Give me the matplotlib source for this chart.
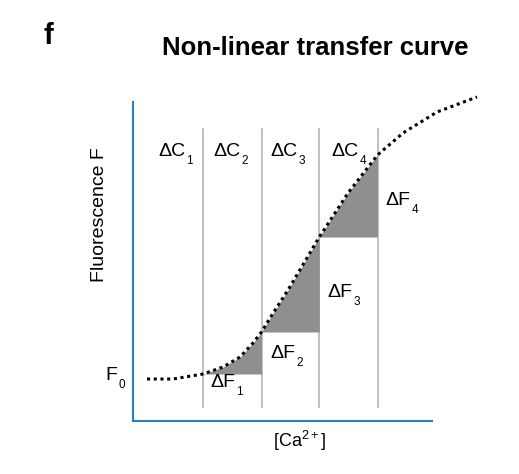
# Non-linear transfer curve (schematic)

import matplotlib
matplotlib.use("Agg")
import matplotlib.pyplot as plt

plt.rcParams["font.family"] = ["Liberation Sans", "DejaVu Sans"]
plt.rcParams["mathtext.fontset"] = "custom"
plt.rcParams["mathtext.rm"] = "Liberation Sans"
plt.rcParams["mathtext.default"] = "regular"

# curve (arbitrary units, [Ca2+] vs fluorescence)
curve_x = [14, 40, 70, 90, 107, 120, 128.5, 137, 155, 186.3, 215, 244.5, 270, 304, 344]
curve_y = [42, 42, 47, 54, 64, 78, 89, 103, 131, 184, 228, 266, 288, 309, 324]

# concentration steps (vertical dividers)
step_x = [70, 128.5, 186.3, 244.5]
step_top = 292
step_bottom = 14

c_subs = ["1", "2", "3", "4"]
c_label_x = [25, 80, 137, 198]
f_subs = ["1", "2", "3", "4"]
f_label_x = [77, 137, 194.5, 252]
f_label_y = [34, 63, 124, 216]


def sub_label(ax, x, y, main, sub, size=14, sub_size=8.5):
    t = ax.text(x, y, main, fontsize=size, ha="left", va="baseline",
                clip_on=False, zorder=4)
    ax.annotate(sub, xy=(1, 0), xycoords=t, xytext=(1.0, -2.6),
                textcoords="offset points", fontsize=sub_size,
                ha="left", va="baseline", zorder=4)
    return t


fig = plt.figure(figsize=(5.19, 4.74), dpi=100)
ax = fig.add_axes([133 / 519, 53 / 474, 347 / 519, 326 / 474])
ax.set_xlim(0, 347)
ax.set_ylim(0, 326)

# shaded fluorescence steps
for i in range(len(step_x) - 1):
    x0, x1 = step_x[i], step_x[i + 1]
    xs = [x for x in curve_x if x0 <= x <= x1]
    ys = [y for x, y in zip(curve_x, curve_y) if x0 <= x <= x1]
    ax.fill_between(xs, ys, ys[0], color="#8f8f91", lw=0, zorder=1)

for x in step_x:
    ax.plot([x, x], [step_bottom, step_top], color="#b5b5b5", lw=1.2, zorder=0)

ax.plot(curve_x, curve_y, color="black", lw=2.2, linestyle=(0, (1, 1.2)),
        clip_on=False, zorder=3)

for s, x in zip(c_subs, c_label_x):
    sub_label(ax, x, 265, "ΔC", s)
for s, x, y in zip(f_subs, f_label_x, f_label_y):
    sub_label(ax, x, y, "ΔF", s)

sub_label(ax, -28, 41, "F", "0")
ax.text(-33, 206, "Fluorescence F", fontsize=14, rotation=90,
        ha="center", va="center", clip_on=False)
ax.text(140, -26, "[Ca$^{2+}$]", fontsize=13, ha="left", va="baseline",
        clip_on=False)

for side in ["top", "right"]:
    ax.spines[side].set_visible(False)
for side in ["left", "bottom"]:
    ax.spines[side].set_color("#2f7cc6")
    ax.spines[side].set_linewidth(1.5)
ax.spines["left"].set_bounds(0, 319)
ax.spines["bottom"].set_bounds(0, 299)
ax.set_xticks([])
ax.set_yticks([])
ax.patch.set_visible(False)

fig.text(315 / 519, 1 - 48 / 474, "Non-linear transfer curve", fontsize=18.5,
         fontweight="bold", ha="center", va="center")
fig.text(48 / 519, 1 - 36 / 474, "f", fontsize=21, fontweight="bold",
         ha="center", va="center")

fig.savefig("out.png", dpi=100)
